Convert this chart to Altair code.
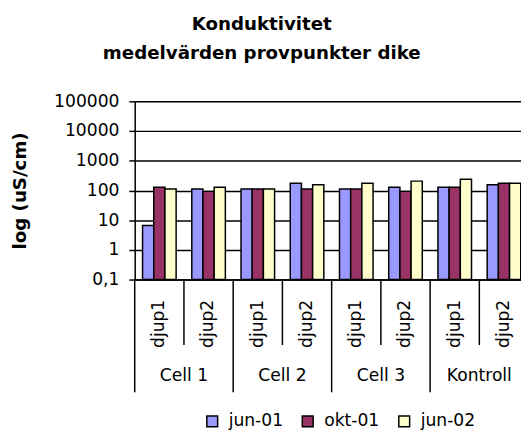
import altair as alt
import pandas as pd

groups = ["Cell 1", "Cell 2", "Cell 3", "Kontroll"]
depths = ["djup1", "djup2"]
series = ["jun-01", "okt-01", "jun-02"]
colors = ["#9999FF", "#993366", "#FFFFCC"]
jun01 = [6.6, 111, 111, 176, 111, 129, 129, 155]
okt01 = [129, 93, 111, 111, 111, 93, 129, 176]
jun02 = [111, 129, 111, 155, 176, 206, 240, 176]
y_ticks = [0.1, 1, 10, 100, 1000, 10000, 100000]
y_min, y_max = 0.1, 100000
title_lines = ["Konduktivitet", "medelvärden provpunkter dike"]
y_title = "log (uS/cm)"

cats = [f"{g}|{d}" for g in groups for d in depths]
rows = []
for name, vals in zip(series, [jun01, okt01, jun02]):
    for c, v in zip(cats, vals):
        rows.append({"cat": c, "series": name, "value": v})
df = pd.DataFrame(rows)

grp_start = pd.DataFrame({"cat": [f"{g}|{depths[0]}" for g in groups]})
inner_start = pd.DataFrame({"cat": [f"{g}|{depths[1]}" for g in groups]})
grp_lab = pd.DataFrame({"cat": [f"{g}|{depths[1]}" for g in groups], "label": groups})

FONT = "DejaVu Sans"
FS = 17.4

x_axis = alt.Axis(
    title=None, ticks=False, tickSize=0, domain=True, domainColor="black",
    domainWidth=1.5, labelAngle=-90, labelAlign="right", labelBaseline="middle",
    labelPadding=20, labelFont=FONT, labelFontSize=FS, labelColor="black",
    labelExpr="split(datum.label, '|')[1]", grid=False,
)
x_scale = alt.Scale(domain=cats, paddingInner=0, paddingOuter=0)


def xenc(**kw):
    return alt.X("cat:N", scale=x_scale, axis=x_axis, sort=cats, **kw)


bars = alt.Chart(df).mark_bar(stroke="black", strokeWidth=1.5).encode(
    x=xenc(),
    xOffset=alt.XOffset("series:N", sort=series,
                        scale=alt.Scale(domain=series, paddingOuter=0.7, paddingInner=0)),
    y=alt.Y("value:Q",
            scale=alt.Scale(type="log", domain=[y_min, y_max]),
            axis=alt.Axis(
                title=y_title, values=y_ticks, titleFont=FONT, titleFontSize=18.5,
                titleFontWeight="bold", titleColor="black", titlePadding=25,
                labelFont=FONT, labelFontSize=FS, labelColor="black", labelPadding=10,
                labelExpr="replace(format(datum.value, '~g'), '.', ',')",
                tickSize=6, tickColor="black", tickWidth=1.5,
                domainColor="black", domainWidth=1.5,
                grid=True, gridColor="black", gridWidth=1.5, gridOpacity=1,
            )),
    y2=alt.Y2(datum=y_min),
    color=alt.Color("series:N", sort=series,
                    scale=alt.Scale(domain=series, range=colors),
                    legend=alt.Legend(
                        orient="none", legendX=70, legendY=316, direction="horizontal",
                        title=None, symbolType="square", symbolSize=121,
                        symbolStrokeColor="black", symbolStrokeWidth=1.5,
                        labelFont=FONT, labelFontSize=FS, labelColor="black",
                        labelOffset=8, columnPadding=16, padding=0,
                    )),
)

grp_rules = alt.Chart(grp_start).mark_rule(color="black", strokeWidth=1.5).encode(
    x=xenc(bandPosition=0), y=alt.value(181), y2=alt.value(295.5))
inner_rules = alt.Chart(inner_start).mark_rule(color="black", strokeWidth=1.5).encode(
    x=xenc(bandPosition=0), y=alt.value(181), y2=alt.value(247.5))
grp_text = alt.Chart(grp_lab).mark_text(
    font=FONT, fontSize=FS, color="black", align="center", baseline="middle").encode(
    x=xenc(bandPosition=0), y=alt.value(279.5), text="label:N")

chart = alt.layer(bars, grp_rules, inner_rules, grp_text).properties(
    width=400, height=181,
    title=alt.TitleParams(text=title_lines, font=FONT, fontSize=18.5, fontWeight="bold",
                          color="black", anchor="middle", dx=-71, offset=30, lineHeight=30),
    autosize=alt.AutoSizeParams(type="none"),
    padding={"left": 128.7, "top": 91.5, "right": -7.7, "bottom": 149.5},
).configure_view(stroke=None).configure(background="white")

chart.save("out.html", embed_options={"renderer": "svg", "actions": False})
